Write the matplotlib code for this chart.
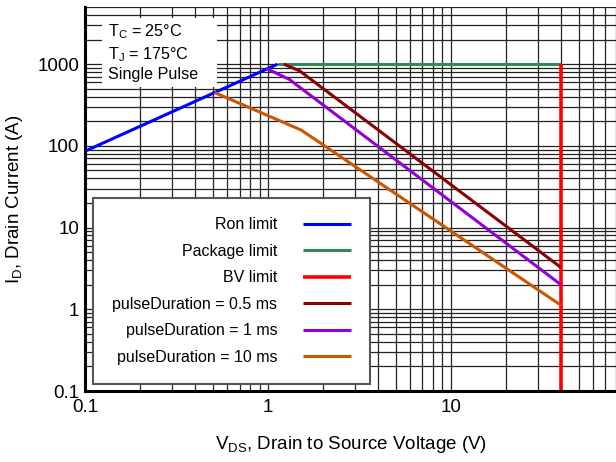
import matplotlib
matplotlib.use("Agg")
import matplotlib.pyplot as plt
from matplotlib.patches import Rectangle
from matplotlib.ticker import FixedLocator, LogLocator, NullFormatter

plt.rcParams['font.family'] = ['Liberation Sans', 'DejaVu Sans']
plt.rcParams['mathtext.fontset'] = 'custom'
plt.rcParams['mathtext.rm'] = 'Liberation Sans'
plt.rcParams['mathtext.it'] = 'Liberation Sans'

# safe operating area curves (V, A)
ron_v = [0.1, 1.13]
ron_i = [86, 1000]
pkg_v = [1.13, 40]
pkg_i = [1000, 1000]
bv_v = [40, 40]
bv_i = [1000, 0.1]
p05_v = [1.22, 1.49, 40]
p05_i = [1000, 828, 3.25]
p1_v = [0.98, 1.31, 40]
p1_i = [886, 650, 2.0]
p10_v = [0.51, 1.52, 40]
p10_i = [450, 156, 1.12]

series = [
    ("Ron limit", ron_v, ron_i, "#0000ff"),
    ("Package limit", pkg_v, pkg_i, "#2e8b57"),
    ("BV limit", bv_v, bv_i, "#ff0000"),
    ("pulseDuration = 0.5 ms", p05_v, p05_i, "#8b0000"),
    ("pulseDuration = 1 ms", p1_v, p1_i, "#9400d3"),
    ("pulseDuration = 10 ms", p10_v, p10_i, "#cc5500"),
]

x_ticks = [0.1, 1, 10]
x_labels = ["0.1", "1", "10"]
y_ticks = [0.1, 1, 10, 100, 1000]
y_labels = ["0.1", "1", "10", "100", "1000"]

W, H = 616, 462
fig = plt.figure(figsize=(W / 100, H / 100), dpi=100)
ax = fig.add_axes([85 / W, 1 - 391 / H, (W - 85) / W, (391 - 7) / H])

for name, v, i, c in series:
    lw = 2.6 if name == "BV limit" else 2.2
    ax.plot(v, i, color=c, lw=lw, label=name, solid_capstyle='butt', zorder=4)

ax.set_xscale('log')
ax.set_yscale('log')
ax.set_xlim(0.1, 80)
ax.set_ylim(0.1, 5000)

ax.xaxis.set_major_locator(FixedLocator(x_ticks))
ax.set_xticklabels(x_labels)
ax.yaxis.set_major_locator(FixedLocator(y_ticks))
ax.set_yticklabels(y_labels)
ax.xaxis.set_minor_locator(LogLocator(base=10, subs=range(2, 10), numticks=20))
ax.yaxis.set_minor_locator(LogLocator(base=10, subs=range(2, 10), numticks=20))
ax.xaxis.set_minor_formatter(NullFormatter())
ax.yaxis.set_minor_formatter(NullFormatter())
ax.tick_params(which='both', length=0, labelsize=13.5)
ax.tick_params(axis='x', pad=6)
ax.tick_params(axis='y', pad=4)

ax.set_axisbelow(True)
ax.grid(True, which='both', color='#222222', lw=0.9)

for s in ['top', 'right']:
    ax.spines[s].set_visible(False)
for s in ['left', 'bottom']:
    ax.spines[s].set_linewidth(2.2)
    ax.spines[s].set_zorder(6)

ax.set_xlabel(r"V$_\mathrm{DS}$, Drain to Source Voltage (V)", fontsize=13.5, labelpad=13)
ax.set_ylabel(r"I$_\mathrm{D}$, Drain Current (A)", fontsize=13.5, labelpad=9)

# conditions box
fig.patches.append(Rectangle((102 / W, 1 - 87 / H), 115 / W, 69 / H,
                             transform=fig.transFigure, facecolor='white',
                             edgecolor='none', zorder=3))
fig.text(108 / W, 1 - 22 / H,
         "T$_\\mathrm{C}$ = 25°C\nT$_\\mathrm{J}$ = 175°C\nSingle Pulse",
         fontsize=11.6, va='top', ha='left', linespacing=1.3, zorder=4)

leg = ax.legend(loc='lower left', bbox_to_anchor=(93 / W, 1 - 384 / H),
                bbox_transform=fig.transFigure, borderaxespad=0,
                markerfirst=False, fontsize=11.5, handlelength=3.0,
                handletextpad=1.6, labelspacing=0.72, borderpad=1.2,
                fancybox=False, framealpha=1, edgecolor='#555555')
leg.get_frame().set_linewidth(1.5)
for t in leg.get_texts():
    t.set_ha('right')
leg._legend_box.align = 'right'

fig.savefig('out.png', dpi=100)
